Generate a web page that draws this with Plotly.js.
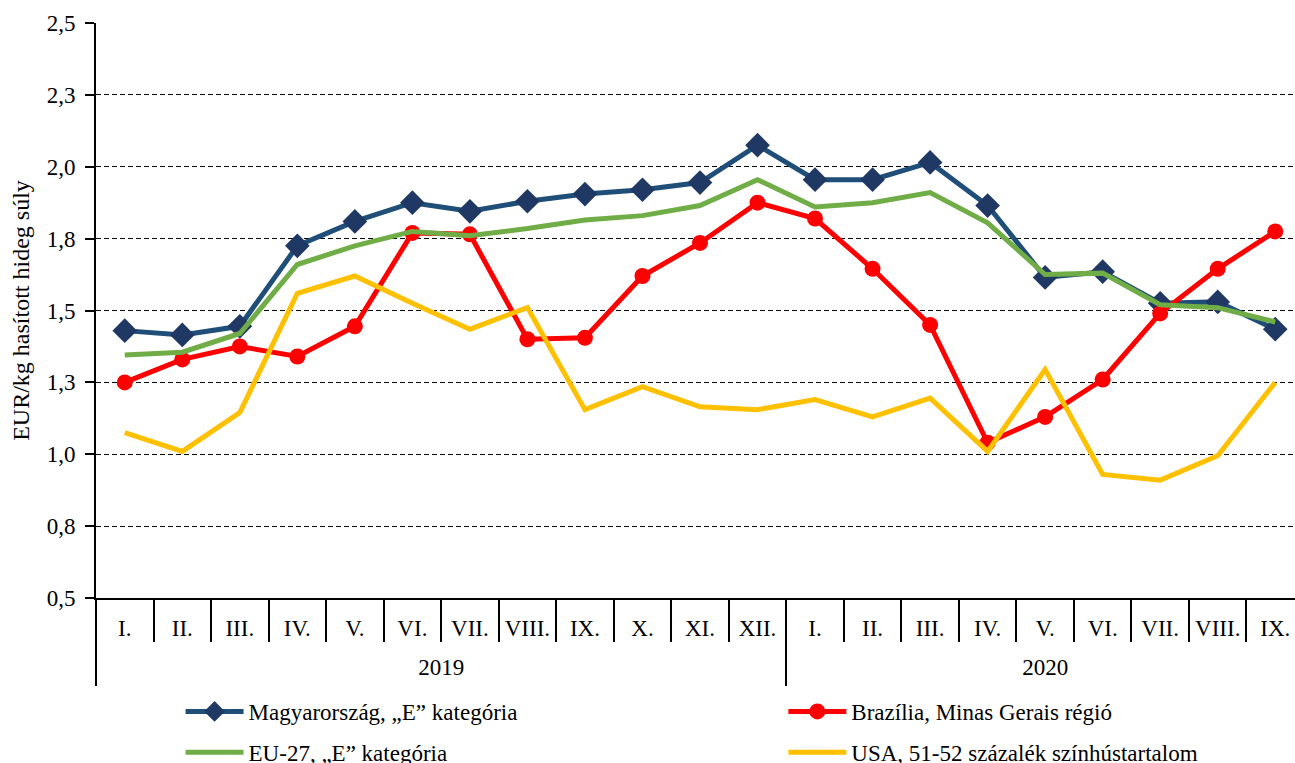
<!DOCTYPE html>
<html><head><meta charset="utf-8">
<script src="https://cdn.plot.ly/plotly-3.0.1.min.js"></script>
<style>html,body{margin:0;padding:0;overflow:hidden;background:#fff}</style>
</head><body><div id="chart" style="width:1310px;height:800px"></div>
<script>
const years = ['2019','2019','2019','2019','2019','2019','2019','2019','2019','2019','2019','2019',
               '2020','2020','2020','2020','2020','2020','2020','2020','2020'];
const months = ['I.','II.','III.','IV.','V.','VI.','VII.','VIII.','IX.','X.','XI.','XII.',
                'I.','II.','III.','IV.','V.','VI.','VII.','VIII.','IX.'];
const hungary = [1.43,1.415,1.445,1.725,1.81,1.875,1.845,1.88,1.905,1.92,1.945,2.075,
                 1.955,1.955,2.015,1.865,1.615,1.635,1.525,1.53,1.435];
const brazil = [1.25,1.33,1.375,1.34,1.445,1.77,1.765,1.40,1.405,1.62,1.735,1.875,
                1.82,1.645,1.45,1.04,1.13,1.26,1.49,1.645,1.775];
const eu27 = [1.345,1.355,1.42,1.66,1.725,1.775,1.76,1.785,1.815,1.83,1.865,1.955,
              1.86,1.875,1.91,1.805,1.625,1.63,1.52,1.51,1.46];
const usa = [1.075,1.01,1.145,1.56,1.62,1.525,1.435,1.51,1.155,1.235,1.165,1.155,
             1.19,1.13,1.195,1.01,1.295,0.93,0.91,0.995,1.25];
const yTickVals = [0.5,0.75,1.0,1.25,1.5,1.75,2.0,2.25,2.5];
const yTickText = ['0,5','0,8','1,0','1,3','1,5','1,8','2,0','2,3','2,5'];
const names = ['Magyarország, „E” kategória','Brazília, Minas Gerais régió','EU-27, „E” kategória','USA, 51-52 százalék színhústartalom'];

const FONT = '"Liberation Serif", "Times New Roman", serif';
const FS = 23;

// unique category keys (year + month) shown with month tick text
const xcats = years.map((y, i) => y + ' ' + months[i]);
const yearList = [...new Set(years)];
const yearCenters = yearList.map(y => (years.indexOf(y) + years.lastIndexOf(y)) / 2);
const yearBounds = [-0.5].concat(yearList.map(y => years.lastIndexOf(y) + 0.5));
const xRange = [-0.5, months.length - 0.5];

const traces = [
  {x:xcats, y:hungary, name:names[0], mode:'lines+markers', type:'scatter', legend:'legend', legendgroup:'a',
   line:{color:'#1F4E79', width:5}, marker:{symbol:'diamond', size:19, color:'#1F3864'}},
  {x:xcats, y:brazil, name:names[1], mode:'lines+markers', type:'scatter', legend:'legend2', legendgroup:'b',
   line:{color:'#FF0000', width:5}, marker:{symbol:'circle', size:16, color:'#FF0000'}},
  {x:xcats, y:eu27, name:names[2], mode:'lines', type:'scatter', legend:'legend', legendgroup:'c',
   line:{color:'#70AD47', width:5}},
  {x:xcats, y:usa, name:names[3], mode:'lines', type:'scatter', legend:'legend2', legendgroup:'d',
   line:{color:'#FFC000', width:5}},
  // empty helper traces so the year-label axis and year-divider axis get drawn
  {x:yearCenters, y:yearCenters.map(() => null), xaxis:'x2', type:'scatter', mode:'lines',
   showlegend:false, hoverinfo:'skip'},
  {x:yearBounds, y:yearBounds.map(() => null), xaxis:'x3', type:'scatter', mode:'lines',
   showlegend:false, hoverinfo:'skip'}
];
const legendBase = {orientation:'v', xanchor:'left', y:-0.16, yanchor:'top', itemwidth:58,
  font:{family:FONT, size:FS, color:'#000'}, traceorder:'grouped', tracegroupgap:8,
  bgcolor:'rgba(0,0,0,0)', borderwidth:0};
const layout = {
  width:1310, height:800,
  margin:{l:96, r:6, t:23, b:202},
  paper_bgcolor:'#fff', plot_bgcolor:'#fff',
  font:{family:FONT, size:FS, color:'#000'},
  showlegend:true,
  legend:Object.assign({}, legendBase, {x:0.07}),
  legend2:Object.assign({}, legendBase, {x:0.569}),
  xaxis:{type:'category', range:xRange, tickvals:xcats, ticktext:months,
         showline:true, linecolor:'#000', linewidth:2,
         ticks:'outside', ticklen:42, tickwidth:2, tickcolor:'#000', tickson:'boundaries',
         ticklabelstandoff:8, showgrid:false, zeroline:false,
         tickfont:{family:FONT, size:FS, color:'#000'}},
  xaxis2:{type:'linear', overlaying:'x', anchor:'y', side:'bottom', range:xRange,
          tickmode:'array', tickvals:yearCenters, ticktext:yearList, ticks:'',
          ticklabelstandoff:53, showline:false, showgrid:false, zeroline:false,
          tickfont:{family:FONT, size:FS, color:'#000'}},
  xaxis3:{type:'linear', overlaying:'x', anchor:'y', side:'bottom', range:xRange,
          tickmode:'array', tickvals:yearBounds, ticks:'outside', ticklen:87, tickwidth:2,
          tickcolor:'#000', showticklabels:false, showline:false, showgrid:false, zeroline:false},
  yaxis:{range:[0.5,2.5], tickvals:yTickVals, ticktext:yTickText, showgrid:true,
         gridcolor:'#000', griddash:'5px,3px', gridwidth:1, showline:true, linecolor:'#000',
         linewidth:2, ticks:'outside', ticklen:9, tickwidth:2, tickcolor:'#000', zeroline:false,
         ticklabelstandoff:5,
         tickfont:{family:FONT, size:FS, color:'#000'},
         title:{text:'EUR/kg hasított hideg súly', font:{family:FONT, size:24, color:'#000'}, standoff:10}}
};
Plotly.newPlot('chart', traces, layout, {displayModeBar:false, staticPlot:true});
</script></body></html>
